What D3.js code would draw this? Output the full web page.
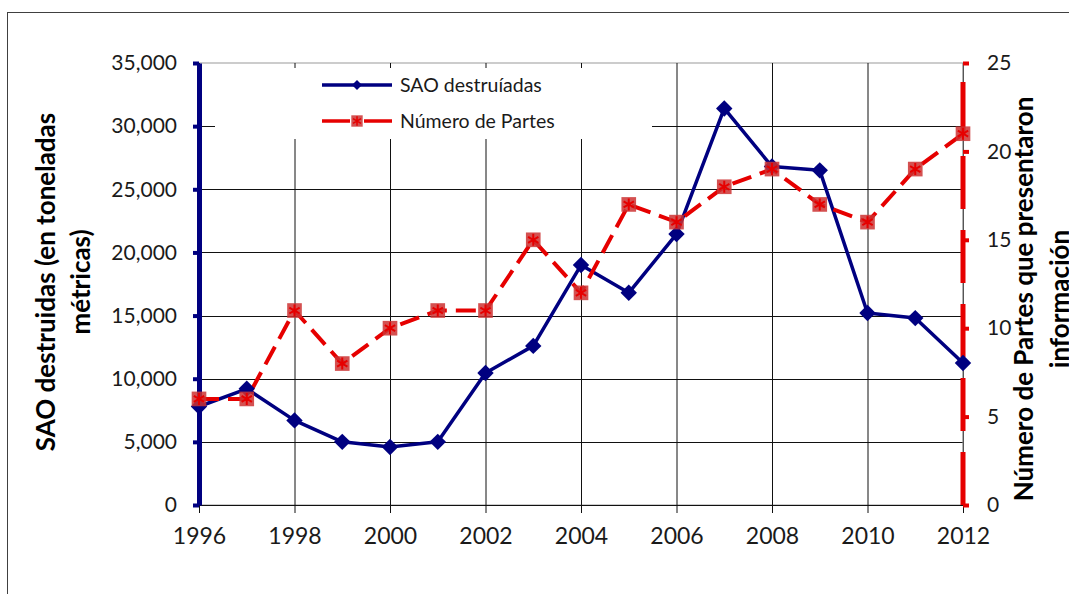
<!DOCTYPE html>
<html>
<head>
<meta charset="utf-8">
<script src="https://cdn.jsdelivr.net/npm/d3@7"></script>
<style>
  body { margin: 0; background: #fff; }
  text { font-family: Lato, "Open Sans", sans-serif; }
</style>
</head>
<body>
<svg id="chart" width="1069" height="594"></svg>
<script>
// data
var years = [1996, 1997, 1998, 1999, 2000, 2001, 2002, 2003, 2004, 2005, 2006, 2007, 2008, 2009, 2010, 2011, 2012];
var saoDestruidas = [7800, 9200, 6700, 5000, 4600, 5000, 10450, 12600, 19000, 16800, 21450, 31400, 26800, 26500, 15200, 14800, 11250];
var numeroPartes = [6, 6, 11, 8, 10, 11, 11, 15, 12, 17, 16, 18, 19, 17, 16, 19, 21];
var xTicks = [1996, 1998, 2000, 2002, 2004, 2006, 2008, 2010, 2012];
var leftTicks = [0, 5000, 10000, 15000, 20000, 25000, 30000, 35000];
var rightTicks = [0, 5, 10, 15, 20, 25];

var navy = "#000080", red = "#e60000";

var svg = d3.select("#chart");

// plot area
var margin = { top: 63, left: 199 },
    width = 764,
    height = 442;

var x = d3.scaleLinear().domain([1996, 2012]).range([margin.left, margin.left + width]);
var y0 = d3.scaleLinear().domain([0, 35000]).range([margin.top + height, margin.top]);
var y1 = d3.scaleLinear().domain([0, 25]).range([margin.top + height, margin.top]);

// outer frame
svg.append("rect")
    .attr("x", 7.5).attr("y", 12.5)
    .attr("width", 1100).attr("height", 600)
    .attr("fill", "#fff").attr("stroke", "#404040");

// plot border (grey)
svg.append("rect")
    .attr("x", margin.left).attr("y", margin.top)
    .attr("width", width).attr("height", height)
    .attr("fill", "none").attr("stroke", "#999");

// horizontal gridlines
svg.append("g")
    .selectAll("line")
    .data(leftTicks.filter(function(d) { return d > 0 && d < 35000; }))
    .enter().append("line")
    .attr("x1", margin.left).attr("x2", margin.left + width)
    .attr("y1", function(d) { return Math.round(y0(d)) + 0.5; })
    .attr("y2", function(d) { return Math.round(y0(d)) + 0.5; })
    .attr("stroke", "#111");

// x axis with vertical gridlines
var xAxis = svg.append("g")
    .attr("transform", "translate(0," + (margin.top + height) + ")")
    .call(d3.axisBottom(x).tickValues(xTicks).tickFormat(d3.format("d")).tickSize(8).tickPadding(15).tickSizeOuter(0));
xAxis.select(".domain").attr("stroke", "#111");
xAxis.selectAll(".tick line").attr("stroke", "#111").attr("y1", -height);
xAxis.selectAll(".tick text").attr("fill", "#1a1a1a").style("font-size", "23px");

// legend box hides the grid behind it
var legend = svg.append("g");
legend.append("rect")
    .attr("x", 215).attr("y", 68).attr("width", 437).attr("height", 71)
    .attr("fill", "#fff");

// left axis
var leftAxis = svg.append("g")
    .attr("transform", "translate(" + margin.left + ",0)")
    .call(d3.axisLeft(y0).tickValues(leftTicks).tickFormat(d3.format(",")).tickSize(6).tickPadding(16).tickSizeOuter(0));
leftAxis.select(".domain").attr("stroke", navy).attr("stroke-width", 5);
leftAxis.selectAll(".tick line").attr("stroke", navy).attr("stroke-width", 4);
leftAxis.selectAll(".tick text").attr("fill", "#1a1a1a").style("font-size", "21px");

// right axis: thin grey line under a long-dash red line
svg.append("line")
    .attr("x1", margin.left + width).attr("x2", margin.left + width)
    .attr("y1", margin.top).attr("y2", margin.top + height)
    .attr("stroke", "#999");
var rightAxis = svg.append("g")
    .attr("transform", "translate(" + (margin.left + width) + ",0)")
    .call(d3.axisRight(y1).tickValues(rightTicks).tickSize(6).tickPadding(18).tickSizeOuter(0));
rightAxis.select(".domain").remove();
rightAxis.selectAll(".tick line").attr("stroke", red).attr("stroke-width", 4);
rightAxis.selectAll(".tick text").attr("fill", "#1a1a1a").style("font-size", "21px");
svg.append("path")
    .attr("d", d3.line()([[margin.left + width, y1(0)], [margin.left + width, y1(25)]]))
    .attr("stroke", red).attr("stroke-width", 5)
    .attr("stroke-dasharray", "53,21");

// SAO line
var saoData = years.map(function(d, i) { return [d, saoDestruidas[i]]; });
var partesData = years.map(function(d, i) { return [d, numeroPartes[i]]; });

var saoLine = d3.line()
    .x(function(d) { return x(d[0]); })
    .y(function(d) { return y0(d[1]); });

var partesLine = d3.line()
    .x(function(d) { return x(d[0]); })
    .y(function(d) { return y1(d[1]); });

svg.append("path")
    .datum(saoData)
    .attr("fill", "none").attr("stroke", navy).attr("stroke-width", 3.5)
    .attr("stroke-linejoin", "round")
    .attr("d", saoLine);

var diamond = d3.symbol().type(d3.symbolSquare).size(135);
var redSquare = d3.symbol().type(d3.symbolSquare).size(215);
var star = d3.symbol().type(d3.symbolAsterisk).size(100);

function drawDiamond(g, cx, cy) {
    g.append("path")
        .attr("d", diamond())
        .attr("transform", "translate(" + cx + "," + cy + ") rotate(45)")
        .attr("fill", navy);
}

function drawRedMarker(g, cx, cy) {
    g.append("path")
        .attr("d", redSquare())
        .attr("transform", "translate(" + cx + "," + cy + ")")
        .attr("fill", "#cc3333").attr("fill-opacity", 0.85);
    g.append("path")
        .attr("d", star())
        .attr("transform", "translate(" + cx + "," + cy + ")")
        .attr("fill", "none").attr("stroke", red).attr("stroke-width", 2);
}

// partes line (on top)
svg.append("path")
    .datum(partesData)
    .attr("fill", "none").attr("stroke", red).attr("stroke-width", 4)
    .attr("stroke-dasharray", "20,9")
    .attr("d", partesLine);

var marks = svg.append("g");
saoData.forEach(function(d) { drawDiamond(marks, x(d[0]), y0(d[1])); });
partesData.forEach(function(d) { drawRedMarker(marks, x(d[0]), y1(d[1])); });

// legend entries
legend.append("line")
    .attr("x1", 322).attr("x2", 392).attr("y1", 85).attr("y2", 85)
    .attr("stroke", navy).attr("stroke-width", 3.5);
legend.append("path")
    .attr("d", d3.symbol().type(d3.symbolSquare).size(50)())
    .attr("transform", "translate(357,85) rotate(45)")
    .attr("fill", navy);
legend.append("text")
    .attr("x", 400).attr("y", 85).attr("dy", "0.35em")
    .style("font-size", "19.5px").attr("fill", "#1a1a1a")
    .text("SAO destruíadas");

legend.append("line")
    .attr("x1", 322).attr("x2", 392).attr("y1", 121).attr("y2", 121)
    .attr("stroke", red).attr("stroke-width", 3.5)
    .attr("stroke-dasharray", "28,14");
legend.append("path")
    .attr("d", d3.symbol().type(d3.symbolSquare).size(130)())
    .attr("transform", "translate(357,121)")
    .attr("fill", "#cc3333").attr("fill-opacity", 0.85);
legend.append("path")
    .attr("d", d3.symbol().type(d3.symbolAsterisk).size(60)())
    .attr("transform", "translate(357,121)")
    .attr("fill", "none").attr("stroke", red).attr("stroke-width", 1.5);
legend.append("text")
    .attr("x", 400).attr("y", 121).attr("dy", "0.35em")
    .style("font-size", "19.5px").attr("fill", "#1a1a1a")
    .text("Número de Partes");

// axis titles
function axisTitle(cx, cy, str) {
    svg.append("text")
        .attr("transform", "translate(" + cx + "," + cy + ") rotate(-90)")
        .attr("text-anchor", "middle").attr("dy", "0.35em")
        .style("font-size", "26px").style("font-weight", "bold")
        .attr("fill", "#000")
        .text(str);
}
axisTitle(46, 282, "SAO destruidas (en toneladas");
axisTitle(81, 282, "métricas)");
axisTitle(1024, 299, "Número de Partes que presentaron");
axisTitle(1060, 299, "información");
</script>
</body>
</html>
